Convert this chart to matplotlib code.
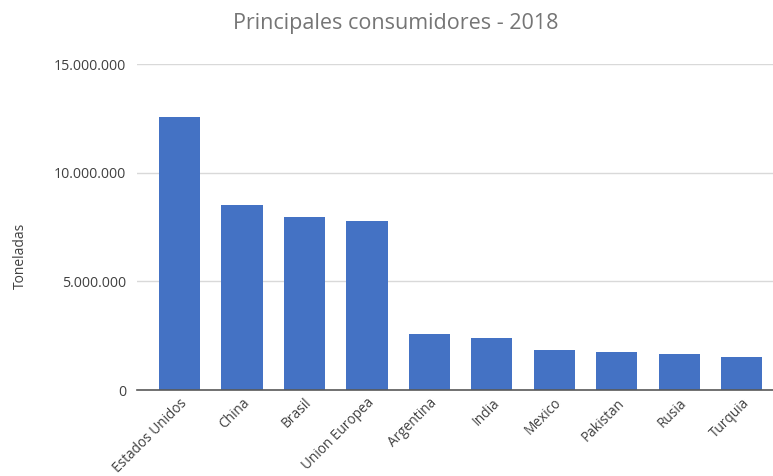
import matplotlib
matplotlib.use("Agg")
import matplotlib.pyplot as plt
from matplotlib.ticker import FuncFormatter

categories = ["Estados Unidos", "China", "Brasil", "Union Europea", "Argentina",
              "India", "Mexico", "Pakistan", "Rusia", "Turquia"]
values = [12560000, 8510000, 7950000, 7780000, 2560000,
          2410000, 1830000, 1730000, 1660000, 1500000]
yticks = [0, 5000000, 10000000, 15000000]

plt.rcParams['font.family'] = ['Open Sans', 'DejaVu Sans']

fig = plt.figure(figsize=(7.73, 4.76), dpi=100)
W, H = 773, 476
ax = fig.add_axes([137 / W, (H - 390) / H, (773 - 137) / W, (390 - 64) / H])

x = list(range(len(categories)))
ax.bar(x, values, width=0.66, color="#4472C4", zorder=3)

ax.set_xlim(-0.68, len(categories) - 0.5)
ax.set_ylim(0, 15000000)
ax.set_yticks(yticks)
ax.yaxis.set_major_formatter(FuncFormatter(lambda v, p: f"{int(v):,}".replace(",", ".")))
ax.grid(axis="y", color="#d9d9d9", linewidth=1, zorder=0)
ax.tick_params(axis="y", length=0, pad=8, labelsize=10.2, labelcolor="#404040")
ax.tick_params(axis="x", length=0, pad=4, labelsize=9.8, labelcolor="#404040")
ax.set_xticks(x)
ax.set_xticklabels(categories, rotation=45, ha="right", rotation_mode="anchor")
for s in ["top", "right", "left"]:
    ax.spines[s].set_visible(False)
ax.spines["bottom"].set_color("#595959")
ax.spines["bottom"].set_linewidth(1.2)
ax.spines["bottom"].set_zorder(4)

ax.set_ylabel("Toneladas", fontsize=10, color="#404040")
ax.yaxis.set_label_coords(-0.172, 0.41)

fig.text(396 / W, 1 - 23 / H, "Principales consumidores - 2018", ha="center", va="center",
         fontsize=15.5, color="#757575")

fig.savefig("out.png", dpi=100)
